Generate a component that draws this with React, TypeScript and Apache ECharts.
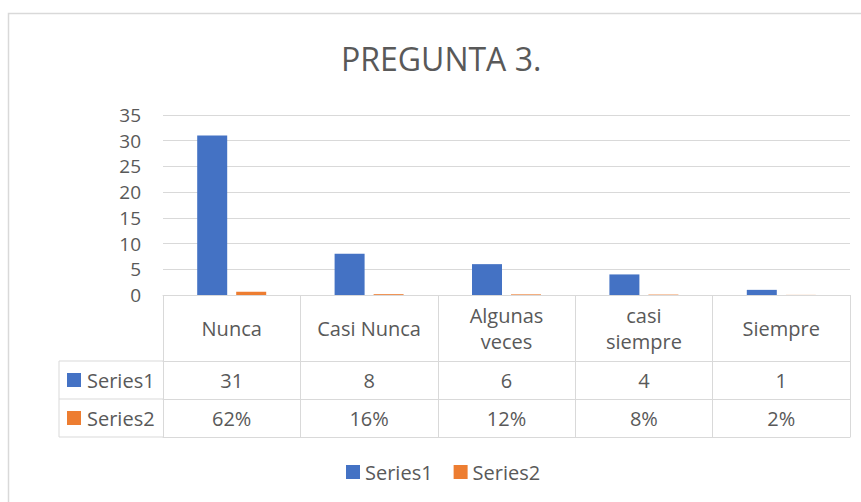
import React, { useEffect, useRef } from "react";
import * as echarts from "echarts";

const title = "PREGUNTA 3.";
const categories = ["Nunca", "Casi Nunca", "Algunas veces", "casi siempre", "Siempre"];
const seriesNames = ["Series1", "Series2"];
const series1 = [31, 8, 6, 4, 1];
const series2 = [0.62, 0.16, 0.12, 0.08, 0.02];
const yTicks = { min: 0, max: 35, interval: 5 };
const colors = ["#4472C4", "#ED7D31"];

const FONT = "'Open Sans', 'Noto Sans', sans-serif";
const TXT = "#595959";
const LINE = "#D9D9D9";
const FS = 20;

export default function App() {
  const ref = useRef<HTMLDivElement>(null);
  useEffect(() => {
    if (!ref.current) return;
    const chart = echarts.init(ref.current, undefined, { renderer: "svg" });
    const pct = series2.map((v) => Math.round(v * 100) + "%");
    const gridLeft = 163;
    const gridRight = 11;
    const gridTop = 115;
    const axisY = 295;
    const row1 = 361;
    const row2 = 399;
    const row3 = 437;
    const leftX = 59;
    const mkAxis = (data: string[], offset: number, showLabel: boolean, labelMargin: number) => ({
      type: "category",
      data,
      position: "bottom",
      offset,
      axisLine: { show: true, lineStyle: { color: LINE, width: 1 } },
      axisTick: { show: false },
      axisLabel: {
        show: showLabel,
        color: TXT,
        fontFamily: FONT,
        fontSize: FS,
        margin: labelMargin,
        verticalAlign: "middle",
        interval: 0,
      },
      splitLine: { show: false },
    });
    const option: any = {
      animation: false,
      backgroundColor: "#ffffff",
      title: {
        text: title,
        left: 341,
        top: 42,
        padding: 0,
        textStyle: { color: TXT, fontFamily: FONT, fontSize: 32, fontWeight: "normal" },
      },
      grid: { left: gridLeft, right: gridRight, top: gridTop, bottom: 502 - axisY, containLabel: false },
      legend: {
        data: seriesNames,
        top: 460,
        left: 346,
        padding: 0,
        icon: "rect",
        itemWidth: 14,
        itemHeight: 14,
        itemGap: 21,
        textStyle: { color: TXT, fontFamily: FONT, fontSize: FS, lineHeight: 24 },
      },
      yAxis: {
        type: "value",
        min: yTicks.min,
        max: yTicks.max,
        interval: yTicks.interval,
        axisLine: { show: false },
        axisTick: { show: false },
        axisLabel: { color: TXT, fontFamily: FONT, fontSize: 19, margin: 22 },
        splitLine: { lineStyle: { color: LINE, width: 1 } },
      },
      xAxis: [
        {
          type: "category",
          data: categories,
          position: "bottom",
          axisLine: { show: true, lineStyle: { color: LINE, width: 1 } },
          axisTick: { show: true, interval: 0, length: row3 - axisY, lineStyle: { color: LINE, width: 1 } },
          axisLabel: {
            color: TXT,
            fontFamily: FONT,
            fontSize: FS,
            margin: (row1 - axisY) / 2,
            verticalAlign: "middle",
            lineHeight: 26,
            interval: 0,
            formatter: (v: string) => (v.length > 10 ? v.replace(" ", "\n") : v),
          },
        },
        mkAxis(series1.map(String), row1 - axisY, true, (row2 - row1) / 2),
        mkAxis(pct, row2 - axisY, true, (row3 - row2) / 2),
        mkAxis(categories.map(() => ""), row3 - axisY, false, 0),
      ],
      series: [
        {
          name: seriesNames[0],
          type: "bar",
          data: series1,
          xAxisIndex: 0,
          barWidth: 30,
          barGap: "30%",
          itemStyle: { color: colors[0] },
        },
        {
          name: seriesNames[1],
          type: "bar",
          data: series2,
          xAxisIndex: 0,
          barWidth: 30,
          barGap: "30%",
          itemStyle: { color: colors[1] },
        },
      ],
      graphic: [
        {
          type: "rect",
          shape: { x: 8.5, y: 13.5, width: 900, height: 600 },
          style: { fill: "none", stroke: LINE, lineWidth: 1.5 },
          silent: true,
          z: -10,
        },
        { type: "line", shape: { x1: leftX, y1: row1, x2: gridLeft, y2: row1 }, style: { stroke: LINE, lineWidth: 1 } },
        { type: "line", shape: { x1: leftX, y1: row2, x2: gridLeft, y2: row2 }, style: { stroke: LINE, lineWidth: 1 } },
        { type: "line", shape: { x1: leftX, y1: row3, x2: gridLeft, y2: row3 }, style: { stroke: LINE, lineWidth: 1 } },
        { type: "line", shape: { x1: leftX, y1: row1, x2: leftX, y2: row3 }, style: { stroke: LINE, lineWidth: 1 } },
        ...seriesNames.flatMap((name, i) => {
          const cy = i === 0 ? (row1 + row2) / 2 : (row2 + row3) / 2;
          return [
            { type: "rect", shape: { x: 67, y: cy - 7, width: 14, height: 14 }, style: { fill: colors[i] } },
            {
              type: "text",
              x: 87,
              y: cy,
              style: { text: name, fill: TXT, font: `${FS}px ${FONT}`, verticalAlign: "middle", align: "left" },
            },
          ];
        }),
      ],
    };
    chart.setOption(option);
    return () => chart.dispose();
  }, []);
  return <div ref={ref} style={{ position: "fixed", left: 0, top: 0, width: 861, height: 502 }} />;
}
